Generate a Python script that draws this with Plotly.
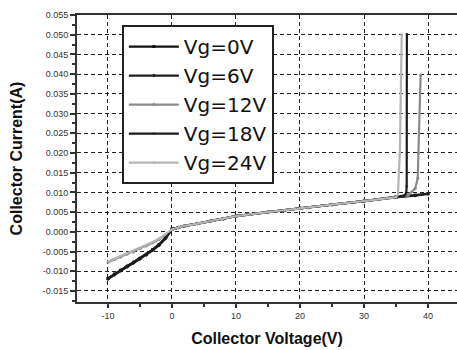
import plotly.graph_objects as go

# Common low-voltage part (V, A)
x_common = [-10, -9, -8, -7, -6, -5, -4, -3, -2, -1, 0, 1, 2, 4, 6, 8, 10, 15, 20, 25, 30, 35]
y_black_common = [-0.0118, -0.0107, -0.0097, -0.0087, -0.0077, -0.0067, -0.0057, -0.0045, -0.0032, -0.0015,
                  0.0007, 0.0011, 0.0015, 0.0021, 0.0027, 0.0033, 0.0040, 0.0050, 0.0060, 0.0069, 0.0078, 0.0088]
y_gray_common = [-0.0077, -0.0070, -0.0064, -0.0057, -0.0051, -0.0043, -0.0036, -0.0028, -0.0019, -0.0008,
                 0.0006, 0.0011, 0.0015, 0.0021, 0.0027, 0.0033, 0.0040, 0.0050, 0.0060, 0.0069, 0.0078, 0.0088]

# Vg = 0V
x_vg0 = x_common + [38, 40]
y_vg0 = y_black_common + [0.0093, 0.0097]
# Vg = 6V
x_vg6 = x_common + [38, 40]
y_vg6 = [v - 0.0002 for v in y_black_common[:10]] + y_black_common[10:] + [0.0092, 0.0096]
# Vg = 12V
x_vg12 = x_common + [36.9, 38.0, 38.4, 38.5, 38.85]
y_vg12 = y_gray_common + [0.0093, 0.0110, 0.0136, 0.0200, 0.0398]
# Vg = 18V
x_vg18 = x_common + [36.3, 36.6, 36.67, 36.7]
y_vg18 = y_black_common[:10] + y_gray_common[10:] + [0.0092, 0.0098, 0.0115, 0.0502]
# Vg = 24V
x_vg24 = x_common + [35.3, 35.6, 35.9]
y_vg24 = [v + 0.0002 for v in y_gray_common[:10]] + y_gray_common[10:] + [0.0095, 0.0200, 0.0502]

series = [
    ("Vg=0V", x_vg0, y_vg0, "#111111", "square"),
    ("Vg=6V", x_vg6, y_vg6, "#1e1e1e", "diamond"),
    ("Vg=12V", x_vg12, y_vg12, "#8a8a8a", "circle"),
    ("Vg=18V", x_vg18, y_vg18, "#1a1a1a", "triangle-down"),
    ("Vg=24V", x_vg24, y_vg24, "#b4b4b4", "triangle-left"),
]

x_ticks = [-10, 0, 10, 20, 30, 40]
y_ticks = [-0.015, -0.010, -0.005, 0.000, 0.005, 0.010, 0.015, 0.020, 0.025,
           0.030, 0.035, 0.040, 0.045, 0.050, 0.055]

fig = go.Figure()
for name, xs, ys, col, sym in series:
    fig.add_trace(go.Scatter(
        x=xs, y=ys, name=name, mode="lines+markers",
        line=dict(color=col, width=2.2),
        marker=dict(color=col, size=3, symbol=sym),
    ))

axis_font = dict(family="Arial, Liberation Sans, sans-serif", size=9, color="#333333")
fig.update_layout(
    width=457, height=350,
    margin=dict(l=77, r=0, t=15, b=48),
    paper_bgcolor="white", plot_bgcolor="white",
    font=dict(family="Arial, Liberation Sans, sans-serif", color="#111111"),
    legend=dict(
        x=0.118, y=0.965, xanchor="left", yanchor="top",
        bgcolor="white", bordercolor="#222222", borderwidth=2,
        font=dict(size=20, family="DejaVu Sans, sans-serif", color="#111111"),
        itemwidth=50, tracegroupgap=0,
    ),
    xaxis=dict(
        range=[-14.84, 44.53], tickvals=x_ticks, ticktext=[str(v) for v in x_ticks],
        showline=True, linecolor="#333333", linewidth=2, mirror=True,
        ticks="outside", ticklen=4, tickwidth=1.5, tickcolor="#333333",
        minor=dict(ticks="outside", dtick=5, tick0=0, ticklen=3, tickcolor="#333333", showgrid=False),
        showgrid=True, gridcolor="#222222", gridwidth=1.3, griddash="4px,3px",
        zeroline=False, tickfont=axis_font, automargin=False,
        title=dict(text="<b>Collector Voltage(V)</b>", font=dict(size=16, color="#111111"), standoff=13),
    ),
    yaxis=dict(
        range=[-0.0178, 0.055], tickvals=y_ticks, ticktext=[f"{v:.3f}" for v in y_ticks],
        showline=True, linecolor="#333333", linewidth=2,
        ticks="outside", ticklen=5, tickwidth=1.5, tickcolor="#333333",
        minor=dict(ticks="outside", dtick=0.0025, tick0=0, ticklen=3, tickcolor="#333333", showgrid=False),
        showgrid=True, gridcolor="#222222", gridwidth=1.3, griddash="4px,3px",
        zeroline=False, tickfont=axis_font, automargin=False,
        title=dict(text="<b>Collector Current(A)</b>", font=dict(size=16, color="#111111"), standoff=16),
    ),
)

fig.write_html(
    "out.html",
    config={"displayModeBar": False},
    post_script="document.body.style.margin='0';document.body.style.overflow='hidden';",
)
